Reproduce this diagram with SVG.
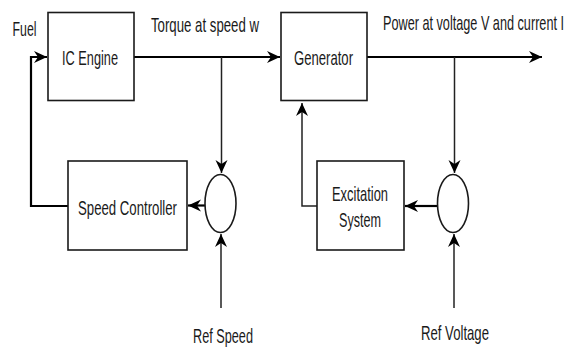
<svg xmlns="http://www.w3.org/2000/svg" width="571" height="347" viewBox="0 0 571 347">
  <style>
    .box { fill: #ffffff; stroke: #1a1a1a; stroke-width: 1.6; }
    .sum { fill: #ffffff; stroke: #1a1a1a; stroke-width: 1.6; }
    .lbl { font-family: "Liberation Sans", Arial, sans-serif; font-size: 21px; fill: #1a1a1a; }
    .main { fill: none; stroke: #000000; stroke-width: 2.2; }
    .sig { fill: none; stroke: #222222; stroke-width: 1.5; }
  </style>
  <defs>
    <marker id="ah" markerUnits="userSpaceOnUse" markerWidth="14" markerHeight="14" viewBox="0 0 14 14" refX="13" refY="7" orient="auto">
      <path d="M0,1 L13,7 L0,13 L4,7 z" fill="#000000"/>
    </marker>
  </defs>
  <rect width="571" height="347" fill="#ffffff"/>

  <g id="connectors">
    <polyline class="main" points="68,206 31,206 31,57 47,57" marker-end="url(#ah)"/>
    <line class="main" x1="134" y1="57" x2="280" y2="57" marker-end="url(#ah)"/>
    <line class="sig" x1="221.5" y1="57" x2="221.5" y2="173" marker-end="url(#ah)"/>
    <line class="main" x1="205" y1="205.5" x2="188" y2="205.5" marker-end="url(#ah)"/>
    <line class="sig" x1="221" y1="308" x2="221" y2="234" marker-end="url(#ah)"/>
    <line class="main" x1="367" y1="57" x2="542" y2="57" marker-end="url(#ah)"/>
    <line class="sig" x1="454.5" y1="57" x2="454.5" y2="173" marker-end="url(#ah)"/>
    <line class="main" x1="437" y1="206" x2="405" y2="206" marker-end="url(#ah)"/>
    <line class="sig" x1="454" y1="308" x2="454" y2="234" marker-end="url(#ah)"/>
    <polyline class="sig" points="317,206 302,206 302,103" marker-end="url(#ah)"/>
  </g>

  <g id="ic-engine">
    <rect class="box" x="48" y="12.5" width="86" height="88"/>
    <text class="lbl" x="62" y="64.5" textLength="56" lengthAdjust="spacingAndGlyphs">IC Engine</text>
  </g>
  <g id="generator">
    <rect class="box" x="281" y="12.5" width="86" height="88"/>
    <text class="lbl" x="294" y="65" textLength="59" lengthAdjust="spacingAndGlyphs">Generator</text>
  </g>
  <g id="speed-controller">
    <rect class="box" x="68" y="161" width="119" height="89"/>
    <text class="lbl" x="78" y="214.5" textLength="99" lengthAdjust="spacingAndGlyphs">Speed Controller</text>
  </g>
  <g id="excitation-system">
    <rect class="box" x="317" y="161" width="87" height="89"/>
    <text class="lbl" x="332" y="201" textLength="56" lengthAdjust="spacingAndGlyphs">Excitation</text>
    <text class="lbl" x="339" y="226.5" textLength="42" lengthAdjust="spacingAndGlyphs">System</text>
  </g>
  <g id="speed-sum">
    <ellipse class="sum" cx="220.5" cy="203.5" rx="15.5" ry="29"/>
  </g>
  <g id="voltage-sum">
    <ellipse class="sum" cx="453" cy="203.5" rx="15.5" ry="29"/>
  </g>

  <g id="labels">
    <text class="lbl" x="12.5" y="35.5" textLength="24" lengthAdjust="spacingAndGlyphs">Fuel</text>
    <text class="lbl" x="151" y="31.5" textLength="108" lengthAdjust="spacingAndGlyphs">Torque at speed w</text>
    <text class="lbl" x="383" y="30" textLength="181" lengthAdjust="spacingAndGlyphs">Power at voltage V and current I</text>
    <text class="lbl" x="193" y="342.5" textLength="60" lengthAdjust="spacingAndGlyphs">Ref Speed</text>
    <text class="lbl" x="421" y="339.5" textLength="68" lengthAdjust="spacingAndGlyphs">Ref Voltage</text>
  </g>
</svg>
